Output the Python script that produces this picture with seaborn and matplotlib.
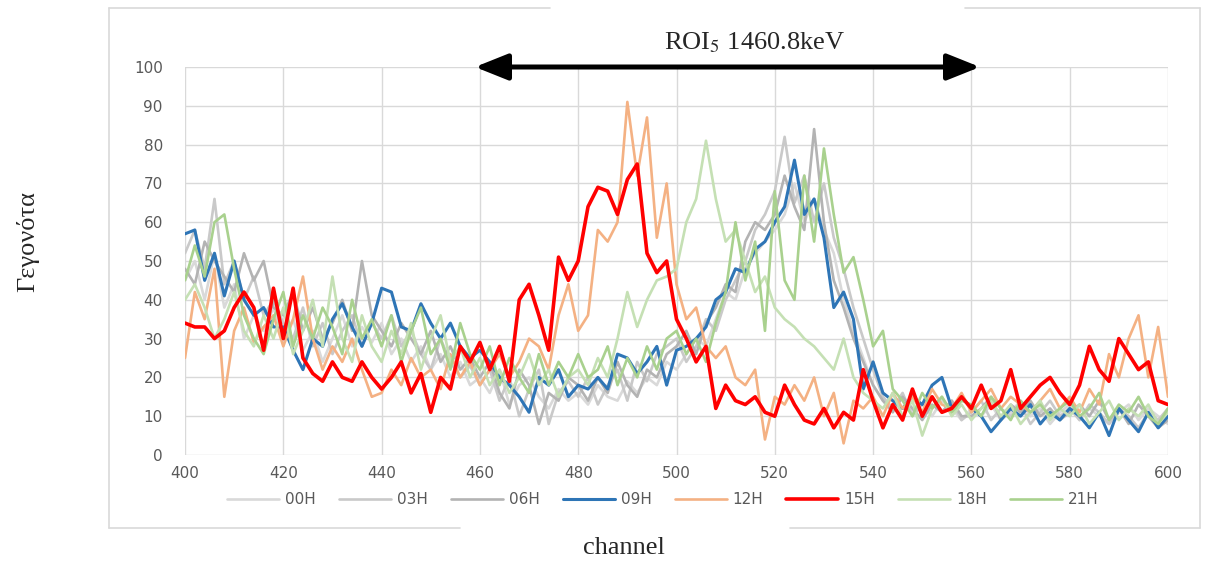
import matplotlib
matplotlib.use("Agg")
import matplotlib.pyplot as plt
import seaborn as sns
from matplotlib.lines import Line2D
from matplotlib.patches import FancyArrowPatch

# ---------------- data (every 2 channels) ----------------
channels = list(range(400, 601, 2))

s00H = [45, 50, 40, 52, 38, 44, 30, 36, 32, 38,
        30, 35, 27, 32, 24, 30, 36, 28, 33, 29,
        34, 26, 30, 24, 28, 22, 26, 20, 24, 18,
        20, 16, 22, 13, 18, 20, 15, 12, 17, 14,
        16, 13, 18, 15, 14, 19, 16, 20, 18, 24,
        22, 26, 30, 28, 35, 42, 40, 48, 52, 55,
        58, 62, 70, 60, 66, 58, 52, 40, 32, 25,
        18, 14, 12, 15, 11, 13, 10, 14, 12, 9,
        12, 10, 13, 9, 11, 14, 10, 12, 8, 11,
        13, 9, 12, 10, 8, 11, 13, 9, 12, 10, 8]

s03H = [52, 58, 48, 66, 44, 50, 40, 46, 36, 40,
        34, 30, 38, 28, 34, 26, 32, 36, 28, 34,
        30, 36, 28, 32, 26, 22, 30, 24, 20, 23,
        18, 22, 14, 20, 10, 17, 22, 8, 16, 19,
        15, 20, 13, 18, 22, 14, 24, 19, 26, 28,
        30, 24, 28, 35, 32, 40, 45, 50, 58, 62,
        68, 82, 65, 72, 60, 70, 56, 48, 38, 30,
        22, 15, 12, 16, 10, 13, 15, 11, 14, 9,
        11, 14, 9, 12, 10, 13, 8, 11, 14, 10,
        12, 9, 13, 11, 8, 12, 10, 7, 11, 9, 12]

s06H = [48, 44, 55, 50, 46, 42, 52, 45, 50, 38,
        36, 42, 32, 38, 30, 34, 40, 32, 50, 36,
        32, 28, 34, 30, 26, 32, 24, 28, 22, 25,
        20, 24, 16, 12, 22, 18, 8, 16, 14, 20,
        18, 14, 20, 16, 24, 18, 15, 22, 20, 26,
        28, 32, 26, 34, 38, 44, 42, 55, 60, 58,
        62, 72, 64, 58, 84, 60, 45, 38, 30, 24,
        18, 14, 11, 15, 12, 9, 13, 11, 14, 10,
        10, 12, 15, 9, 13, 11, 14, 10, 12, 9,
        11, 13, 10, 14, 9, 12, 8, 13, 10, 7, 9]

s09H = [57, 58, 45, 52, 41, 50, 40, 36, 38, 33,
        33, 27, 22, 30, 28, 35, 39, 33, 28, 34,
        43, 42, 33, 32, 39, 34, 30, 34, 28, 25,
        27, 24, 20, 18, 15, 11, 20, 18, 22, 15,
        18, 17, 20, 17, 26, 25, 21, 24, 28, 18,
        27, 28, 30, 33, 40, 42, 48, 47, 53, 55,
        60, 64, 76, 62, 66, 56, 38, 42, 35, 17,
        24, 16, 14, 12, 15, 13, 18, 20, 12, 15,
        12, 10, 6, 9, 12, 10, 13, 8, 11, 9,
        12, 10, 7, 11, 5, 12, 9, 6, 11, 7, 10]

s12H = [25, 42, 35, 48, 15, 32, 38, 29, 33, 36,
        28, 35, 46, 30, 22, 28, 24, 30, 22, 15,
        16, 22, 18, 25, 20, 22, 17, 26, 20, 24,
        18, 22, 26, 20, 24, 30, 28, 22, 36, 44,
        32, 36, 58, 55, 60, 91, 72, 87, 56, 70,
        44, 35, 38, 28, 25, 28, 20, 18, 22, 4,
        15, 13, 18, 14, 20, 10, 16, 3, 14, 12,
        15, 10, 16, 12, 15, 11, 17, 13, 12, 16,
        11, 14, 17, 12, 15, 13, 11, 14, 17, 12,
        15, 11, 17, 13, 26, 20, 30, 36, 20, 33, 15]

s15H = [34, 33, 33, 30, 32, 38, 42, 38, 27, 43,
        30, 43, 25, 21, 19, 24, 20, 19, 24, 20,
        17, 20, 24, 16, 21, 11, 20, 17, 28, 24,
        29, 22, 28, 19, 40, 44, 36, 27, 51, 45,
        50, 64, 69, 68, 62, 71, 75, 52, 47, 50,
        35, 30, 24, 28, 12, 18, 14, 13, 15, 11,
        10, 18, 13, 9, 8, 12, 7, 11, 9, 22,
        14, 7, 13, 9, 17, 10, 15, 11, 12, 15,
        12, 18, 12, 14, 22, 12, 15, 18, 20, 16,
        13, 18, 28, 22, 19, 30, 26, 22, 24, 14, 13]

s18H = [40, 44, 38, 30, 35, 42, 32, 28, 36, 30,
        38, 26, 32, 40, 28, 46, 30, 24, 36, 28,
        24, 32, 26, 34, 22, 30, 36, 24, 28, 20,
        25, 18, 22, 16, 20, 26, 18, 22, 15, 20,
        22, 18, 25, 20, 30, 42, 33, 40, 45, 46,
        48, 60, 66, 81, 66, 55, 58, 50, 42, 46,
        38, 35, 33, 30, 28, 25, 22, 30, 20, 16,
        14, 12, 16, 10, 14, 5, 12, 15, 10, 13,
        9, 12, 14, 10, 13, 8, 11, 14, 9, 12,
        10, 13, 8, 11, 14, 9, 12, 10, 13, 8, 11]

s21H = [45, 54, 46, 60, 62, 48, 36, 30, 26, 35,
        42, 28, 36, 30, 38, 33, 26, 40, 30, 35,
        28, 36, 24, 32, 38, 26, 30, 22, 34, 26,
        22, 28, 18, 25, 20, 16, 26, 18, 24, 20,
        26, 20, 22, 28, 18, 25, 20, 28, 22, 30,
        32, 26, 30, 24, 34, 42, 60, 45, 55, 32,
        68, 45, 40, 72, 55, 79, 62, 47, 51, 40,
        28, 32, 17, 14, 10, 16, 12, 15, 11, 14,
        13, 10, 15, 12, 9, 14, 11, 13, 10, 12,
        14, 10, 12, 16, 9, 13, 11, 15, 10, 8, 12]

series_names = ["00H", "03H", "06H", "09H", "12H", "15H", "18H", "21H"]
series_values = [s00H, s03H, s06H, s09H, s12H, s15H, s18H, s21H]
series_colors = ["#D9D9D9", "#C9C9C9", "#B3B3B3", "#2E75B6",
                 "#F4B183", "#FF0000", "#C5E0B4", "#A9D18E"]
series_widths = [1.9, 1.9, 1.9, 2.2, 1.9, 2.6, 1.9, 1.9]

x_ticks = list(range(400, 601, 20))
y_ticks = list(range(0, 101, 10))

# ---------------- figure ----------------
sns.set_theme(style="white")
plt.rcParams["font.family"] = ["DejaVu Sans"]
plt.rcParams["mathtext.fontset"] = "stix"

W, H = 1211, 568
fig = plt.figure(figsize=(W / 100, H / 100), dpi=100)
fig.patch.set_facecolor("white")
ax = fig.add_axes([185 / W, 1 - 455 / H, (1168 - 185) / W, (455 - 67) / H])

for i, (name, vals, col, lw) in enumerate(zip(series_names, series_values,
                                               series_colors, series_widths)):
    sns.lineplot(x=channels, y=vals, ax=ax, color=col, linewidth=lw,
                 label=name, zorder=3 + (5 if name == "15H" else i * 0.1))

ax.set_xlim(400, 600)
ax.set_ylim(0, 100)
ax.set_xticks(x_ticks)
ax.set_yticks(y_ticks)
ax.set_xlabel("")
ax.set_ylabel("")
ax.grid(True, color="#D9D9D9", linewidth=1.0)
ax.set_axisbelow(True)
for sp in ax.spines.values():
    sp.set_visible(False)
ax.tick_params(axis="both", length=0, labelsize=11, labelcolor="#595959")
ax.tick_params(axis="y", pad=16)
ax.tick_params(axis="x", pad=8)

leg = ax.legend(loc="center", bbox_to_anchor=(663 / W, 1 - 500 / H),
                bbox_transform=fig.transFigure, ncol=8, frameon=False,
                fontsize=11, handlelength=3.4, handletextpad=0.4,
                columnspacing=1.5, labelcolor="#595959")

# outer chart frame (partly hidden by the annotation boxes)
fc = "#D9D9D9"
def fline(x0, y0, x1, y1):
    fig.add_artist(Line2D([x0 / W, x1 / W], [1 - y0 / H, 1 - y1 / H],
                          transform=fig.transFigure, color=fc, lw=1.2))
fline(109, 8, 109, 528)
fline(109, 8, 550, 8)
fline(965, 8, 1200, 8)
fline(1200, 8, 1200, 528)
fline(109, 528, 460, 528)
fline(790, 528, 1200, 528)

# ROI arrow and label
arrow = FancyArrowPatch((475 / W, 1 - 67 / H), (980 / W, 1 - 67 / H),
                        transform=fig.transFigure,
                        arrowstyle="<|-|>,head_length=1.0,head_width=0.4",
                        mutation_scale=20, lw=3.6, color="black",
                        shrinkA=0, shrinkB=0, zorder=10)
fig.add_artist(arrow)
fig.text(755 / W, 1 - 43 / H, r"ROI$_5$ 1460.8keV", ha="center", va="center",
         fontsize=19, family=["Liberation Serif", "DejaVu Serif"])

fig.text(624 / W, 1 - 548 / H, "channel", ha="center", va="center",
         fontsize=19, family=["Liberation Serif", "DejaVu Serif"])
fig.text(28 / W, 1 - 242 / H, "Γεγονότα", ha="center", va="center",
         rotation=90, fontsize=19, family=["Liberation Serif", "DejaVu Serif"])

fig.savefig("out.png", dpi=100, facecolor="white")
